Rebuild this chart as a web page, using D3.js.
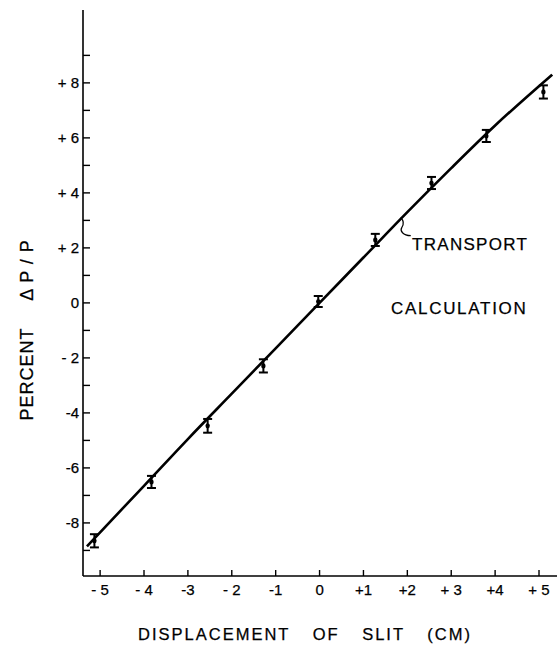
<!DOCTYPE html>
<html>
<head>
<meta charset="utf-8">
<script src="https://cdn.jsdelivr.net/npm/d3@7"></script>
<style>
  html, body { margin: 0; padding: 0; background: #fff; }
  svg { display: block; }
  text { font-family: "Liberation Sans", Arial, Helvetica, sans-serif; fill: #000; stroke: #000; stroke-width: 0.25; }
</style>
</head>
<body>
<svg id="chart" width="559" height="645"></svg>
<script>
// Measured momentum shift versus slit displacement
const slitCm      = [-5.13, -3.83, -2.55, -1.28, -0.03, 1.27, 2.55, 3.80, 5.10];
const deltaPct    = [-8.65, -6.51, -4.47, -2.29, 0.05, 2.29, 4.36, 6.07, 7.67];
const deltaErr    = [0.24, 0.22, 0.25, 0.24, 0.20, 0.22, 0.22, 0.22, 0.24];

// TRANSPORT calculation curve
const calcX = [-5.3, -4, -3, -2, -1, 0, 1, 2, 3, 4, 5.3];
const calcY = [-8.85, -6.65, -4.95, -3.3, -1.65, 0, 1.65, 3.3, 4.9, 6.45, 8.3];

// Axis ticks and labels
const xTicks      = [-5, -4, -3, -2, -1, 0, 1, 2, 3, 4, 5];
const xTickLabels = ["- 5", "- 4", "-3", "- 2", "-1", "0", "+1", "+2", "+ 3", "+4", "+ 5"];
const yTicks      = [-8, -6, -4, -2, 0, 2, 4, 6, 8];
const yTickLabels = ["-8", "-6", "-4", "- 2", "0", "+ 2", "+ 4", "+ 6", "+ 8"];
const yMinorTicks = [-9, -7, -5, -3, -1, 1, 3, 5, 7, 9];
const xDomain = [-5.39, 5.41];
const yDomain = [-9.93, 10.65];

const svg = d3.select("#chart");
const x = d3.scaleLinear().domain(xDomain).range([83, 557]);
const y = d3.scaleLinear().domain(yDomain).range([576, 10]);

const ink = "#000";

// Axis lines
svg.append("line")
  .attr("x1", x(xDomain[0])).attr("x2", x(xDomain[0]))
  .attr("y1", y(yDomain[0])).attr("y2", y(yDomain[1]))
  .attr("stroke", ink).attr("stroke-width", 1.6);
svg.append("line")
  .attr("x1", x(xDomain[0])).attr("x2", x(xDomain[1]))
  .attr("y1", y(yDomain[0])).attr("y2", y(yDomain[0]))
  .attr("stroke", ink).attr("stroke-width", 1.6);

// Y ticks (pointing inward)
const yAxisX = x(xDomain[0]);
svg.append("g").selectAll("line")
  .data(yTicks.concat(yMinorTicks))
  .join("line")
  .attr("x1", yAxisX).attr("x2", yAxisX + 7)
  .attr("y1", d => y(d)).attr("y2", d => y(d))
  .attr("stroke", ink).attr("stroke-width", 1.4);

svg.append("g").selectAll("text")
  .data(yTicks)
  .join("text")
  .attr("x", yAxisX - 4)
  .attr("y", d => y(d))
  .attr("dy", "0.36em")
  .attr("text-anchor", "end")
  .attr("font-size", 15)
  .text((d, i) => yTickLabels[i]);

// X ticks (pointing inward)
const xAxisY = y(yDomain[0]);
svg.append("g").selectAll("line")
  .data(xTicks)
  .join("line")
  .attr("x1", d => x(d)).attr("x2", d => x(d))
  .attr("y1", xAxisY).attr("y2", xAxisY - 6)
  .attr("stroke", ink).attr("stroke-width", 1.4);

svg.append("g").selectAll("text")
  .data(xTicks)
  .join("text")
  .attr("x", d => x(d))
  .attr("y", xAxisY + 19)
  .attr("text-anchor", "middle")
  .attr("font-size", 15)
  .text((d, i) => xTickLabels[i]);

// Axis titles
svg.append("text")
  .attr("x", 305).attr("y", 640)
  .attr("text-anchor", "middle")
  .attr("font-size", 16.5)
  .attr("letter-spacing", 2)
  .attr("word-spacing", 16)
  .text("DISPLACEMENT OF SLIT (CM)");

svg.append("text")
  .attr("transform", "translate(33,374) rotate(-90)")
  .attr("text-anchor", "middle")
  .attr("font-size", 18)
  .attr("letter-spacing", 1)
  .text("PERCENT");
svg.append("text")
  .attr("transform", "translate(33,270) rotate(-90)")
  .attr("text-anchor", "middle")
  .attr("font-size", 18)
  .attr("letter-spacing", 1)
  .text("Δ P / P");

// Calculation curve
const calc = calcX.map((v, i) => [v, calcY[i]]);
svg.append("path")
  .datum(calc)
  .attr("fill", "none")
  .attr("stroke", ink)
  .attr("stroke-width", 2.6)
  .attr("d", d3.line().x(d => x(d[0])).y(d => y(d[1])).curve(d3.curveMonotoneX));

// Measured points with error bars
const pts = slitCm.map((v, i) => ({ x: v, y: deltaPct[i], e: deltaErr[i] }));
const g = svg.append("g").selectAll("g").data(pts).join("g");
g.append("line")
  .attr("x1", d => x(d.x)).attr("x2", d => x(d.x))
  .attr("y1", d => y(d.y + d.e)).attr("y2", d => y(d.y - d.e))
  .attr("stroke", ink).attr("stroke-width", 2);
g.append("line")
  .attr("x1", d => x(d.x) - 4.5).attr("x2", d => x(d.x) + 4.5)
  .attr("y1", d => y(d.y + d.e)).attr("y2", d => y(d.y + d.e))
  .attr("stroke", ink).attr("stroke-width", 2);
g.append("line")
  .attr("x1", d => x(d.x) - 4.5).attr("x2", d => x(d.x) + 4.5)
  .attr("y1", d => y(d.y - d.e)).attr("y2", d => y(d.y - d.e))
  .attr("stroke", ink).attr("stroke-width", 2);
g.append("ellipse")
  .attr("cx", d => x(d.x)).attr("cy", d => y(d.y))
  .attr("rx", 2.2).attr("ry", 2.6)
  .attr("fill", ink);

// Curve label with wavy leader
const ax = x(1.85), ay = y(3.1);
svg.append("path")
  .attr("fill", "none").attr("stroke", ink).attr("stroke-width", 1.2)
  .attr("d", `M${ax},${ay} C${ax + 4},${ay + 4} ${ax + 3},${ay + 7} ${ax + 1},${ay + 10}
              C${ax - 1},${ay + 13} ${ax + 2},${ay + 18} ${ax + 10},${ay + 18}`);

svg.append("text")
  .attr("x", 412).attr("y", 250)
  .attr("font-size", 17)
  .attr("letter-spacing", 1.3)
  .text("TRANSPORT");
svg.append("text")
  .attr("x", 391).attr("y", 314)
  .attr("font-size", 17)
  .attr("letter-spacing", 1.7)
  .text("CALCULATION");
</script>
</body>
</html>
